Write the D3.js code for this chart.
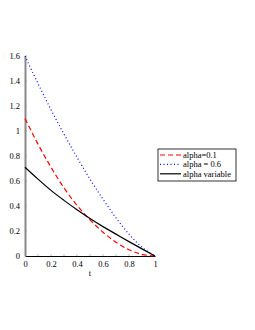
<!DOCTYPE html>
<html>
<head>
<meta charset="utf-8">
<script src="https://cdn.jsdelivr.net/npm/d3@7"></script>
<style>
  body { margin: 0; background: #fff; }
  text { font-family: "Liberation Serif", "DejaVu Serif", serif; fill: #000; }
</style>
</head>
<body>
<div id="chart"></div>
<script>
// Values
var tValues = [0, 0.1, 0.2, 0.3, 0.4, 0.5, 0.6, 0.7, 0.8, 0.9, 1];
var alpha01 = [1.1, 0.895, 0.71, 0.545, 0.405, 0.29, 0.19, 0.11, 0.05, 0.013, 0];
var alpha06 = [1.6, 1.38, 1.17, 0.975, 0.79, 0.615, 0.455, 0.305, 0.175, 0.07, 0];
var alphaVar = [0.71, 0.615, 0.525, 0.445, 0.37, 0.3, 0.235, 0.175, 0.115, 0.057, 0];
var xTicks = [0, 0.2, 0.4, 0.6, 0.8, 1];
var yTicks = [0, 0.2, 0.4, 0.6, 0.8, 1, 1.2, 1.4, 1.6];
var legendLabels = ["alpha=0.1", "alpha = 0.6", "alpha variable"];

var svgWidth = 255;
var svgHeight = 330;

var svg = d3.select("#chart")
    .append("svg")
    .attr("width", svgWidth)
    .attr("height", svgHeight);

// Plot area in pixels
var margin = { top: 56, left: 25 };
var width = 130;
var height = 200;

var chartGroup = svg.append("g")
    .attr("transform", `translate(${margin.left}, ${margin.top})`);

var xScale = d3.scaleLinear().domain([0, 1]).range([0, width]);
var yScale = d3.scaleLinear().domain([0, 1.6]).range([height, 0]);

// small minor ticks on the x axis
chartGroup.append("g")
    .selectAll("line")
    .data(d3.range(0.1, 1, 0.1))
    .enter()
    .append("line")
    .attr("x1", d => xScale(d))
    .attr("x2", d => xScale(d))
    .attr("y1", height)
    .attr("y2", height - 2)
    .attr("stroke", "#999")
    .attr("stroke-width", 0.6);

// small ticks on the y axis
chartGroup.append("g")
    .selectAll("line")
    .data(d3.range(0.2, 1.61, 0.2))
    .enter()
    .append("line")
    .attr("x1", 0)
    .attr("x2", 2)
    .attr("y1", d => yScale(d))
    .attr("y2", d => yScale(d))
    .attr("stroke", "#999")
    .attr("stroke-width", 0.6);

// Axes
var bottomAxis = d3.axisBottom(xScale)
    .tickValues(xTicks)
    .tickSize(0)
    .tickPadding(5)
    .tickFormat(d3.format("~g"));
var leftAxis = d3.axisLeft(yScale)
    .tickValues(yTicks)
    .tickSize(0)
    .tickPadding(5)
    .tickFormat(d3.format("~g"));

var xAxisG = chartGroup.append("g")
    .attr("transform", `translate(0, ${height})`)
    .call(bottomAxis);
xAxisG.select(".domain").attr("stroke", "#000").attr("stroke-width", 1.2);
xAxisG.selectAll("text").attr("font-size", 8.5).attr("fill", "#000");

var yAxisG = chartGroup.append("g")
    .call(leftAxis);
yAxisG.select(".domain").attr("stroke", "#888").attr("stroke-width", 2);
yAxisG.selectAll("text").attr("font-size", 8.5).attr("fill", "#000");

// Curves
var series = [
    { values: alpha01, color: "#ff0000", dash: "5,3", width: 1.2 },
    { values: alpha06, color: "#0000ff", dash: "1,2.5", width: 1.2 },
    { values: alphaVar, color: "#000000", dash: null, width: 1.2 }
];

var line = d3.line()
    .x(d => xScale(d[0]))
    .y(d => yScale(d[1]))
    .curve(d3.curveMonotoneX);

series.forEach(function(s) {
    chartGroup.append("path")
        .datum(tValues.map((t, i) => [t, s.values[i]]))
        .attr("fill", "none")
        .attr("stroke", s.color)
        .attr("stroke-width", s.width)
        .attr("stroke-dasharray", s.dash)
        .attr("d", line);
});

// x label
chartGroup.append("text")
    .attr("x", width / 2)
    .attr("y", height + 20)
    .attr("text-anchor", "middle")
    .attr("font-size", 8.5)
    .text("t");

// Legend
var legend = svg.append("g")
    .attr("transform", "translate(158, 149)");

legend.append("rect")
    .attr("width", 78)
    .attr("height", 32)
    .attr("fill", "#fff")
    .attr("stroke", "#000")
    .attr("stroke-width", 0.8);

series.forEach(function(s, i) {
    var y = 6 + i * 9.4;
    legend.append("line")
        .attr("x1", 2)
        .attr("x2", 23)
        .attr("y1", y)
        .attr("y2", y)
        .attr("stroke", s.color)
        .attr("stroke-width", s.width)
        .attr("stroke-dasharray", s.dash);
    legend.append("text")
        .attr("x", 25)
        .attr("y", y + 3)
        .attr("font-size", 8.5)
        .text(legendLabels[i]);
});
</script>
</body>
</html>
